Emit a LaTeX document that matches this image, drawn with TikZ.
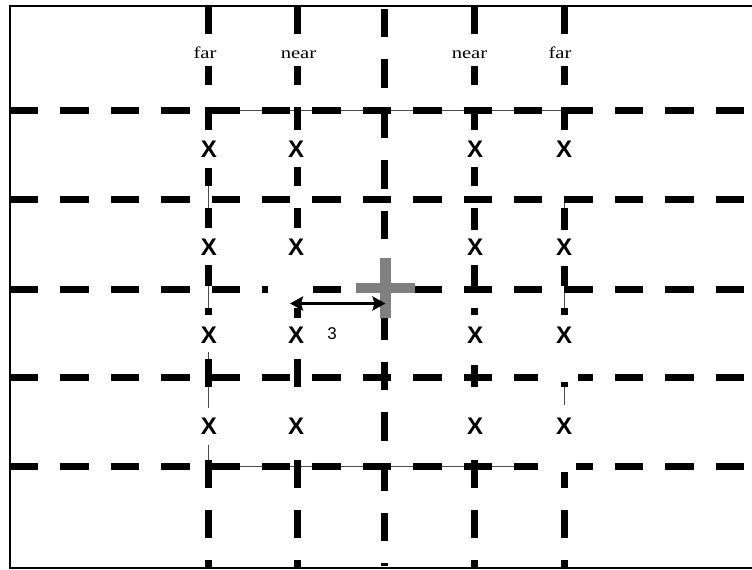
\documentclass[tikz,border=0pt]{standalone}
\usepackage{fontspec}
\setmainfont{Liberation Serif}
\newfontfamily\arialfont{Liberation Sans}
\usetikzlibrary{arrows.meta}
\definecolor{plusgray}{RGB}{128,128,128}
\tikzset{
  thinline/.style={draw=gray!60!black, line width=0.9pt},
  dashline/.style={draw=black, line width=7pt, line cap=butt, dash pattern=on 28.4pt off 22pt},
  blank/.style={fill=white, draw=none},
  toplabel/.style={inner sep=0pt, anchor=base, font=\fontsize{16.5}{16.5}\selectfont},
  xmark/.style={inner sep=0pt, font=\arialfont\bfseries\fontsize{24}{24}\selectfont},
  pluscol/.style={draw=plusgray, line width=10.5pt, line cap=butt},
  dimarrow/.style={draw=black, line width=3.5pt, {Stealth[length=13pt,width=14pt,inset=2pt]}-{Stealth[length=13pt,width=14pt,inset=2pt]}},
  framel/.style={draw=black, line width=2.5pt}
}
\begin{document}
\begin{tikzpicture}[x=1pt, y=-1pt]
\useasboundingbox (0,0) rectangle (752,570);
% thin rectangle underneath
\draw[thinline] (208.7,110.5) rectangle (564.7,466);
% horizontal dashed lines
\foreach \yy in {110.5,199.5,289,377,466}{
  \draw[dashline] (10,\yy) -- (752,\yy);
}
% vertical dashed lines
\foreach \xx in {208.7,297.5,474.8,564.7}{
  \draw[dashline] (\xx,6) -- (\xx,568);
}
\draw[dashline] (384.8,9) -- (384.8,566);
% white boxes under labels
\foreach \xx in {208.7,297.5,474.8,564.7}{
  \fill[blank] (\xx-12,35) rectangle (\xx+12,66);
}
% white boxes around X marks
\fill[blank] (196,130) rectangle (221,168);
\fill[blank] (196,228) rectangle (221,265);
\fill[blank] (196,315) rectangle (221,352);
\fill[blank] (196,408) rectangle (221,445);
\fill[blank] (285,130) rectangle (310,167);
\fill[blank] (268,228) rectangle (313,307);
\fill[blank] (285,318) rectangle (310,359);
\fill[blank] (285,408) rectangle (310,458);
\fill[blank] (462,130) rectangle (487,167);
\fill[blank] (462,230) rectangle (487,265);
\fill[blank] (462,315) rectangle (487,365);
\fill[blank] (462,390) rectangle (487,460);
\fill[blank] (552,130) rectangle (577,196);
\fill[blank] (552,230) rectangle (577,266);
\fill[blank] (538,315) rectangle (578,382);
\fill[blank] (538,405) rectangle (576,472);
% top labels
\node[toplabel] (farL) at (205,58) {\scalebox{1.25}[1]{far}};
\node[toplabel] (nearL) at (298.5,58) {\scalebox{1.25}[1]{near}};
\node[toplabel] (nearR) at (469.5,58) {\scalebox{1.25}[1]{near}};
\node[toplabel] (farR) at (560,58) {\scalebox{1.25}[1]{far}};
% X marks
\foreach \xx/\cn in {209/a,296/b,475/c,564/d}{
  \foreach \yy/\rn in {149/1,247.5/2,335/3,426.5/4}{
    \node[xmark] (x\cn\rn) at (\xx,\yy) {X};
  }
}
% grey plus
\draw[pluscol] (356,288) -- (415,288);
\draw[pluscol] (385.5,258) -- (385.5,318);
% dimension arrow
\coordinate (arL) at (290,303.5);
\coordinate (arR) at (385.5,303.5);
\draw[dimarrow] (arL) -- (arR);
\node[inner sep=0pt, anchor=base, font=\arialfont\fontsize{17}{17}\selectfont] (dimlab) at (332,339) {3};
% frame (left, top, bottom)
\draw[framel] (752,6) -- (10,6) -- (10,568) -- (752,568);
\end{tikzpicture}
\end{document}
